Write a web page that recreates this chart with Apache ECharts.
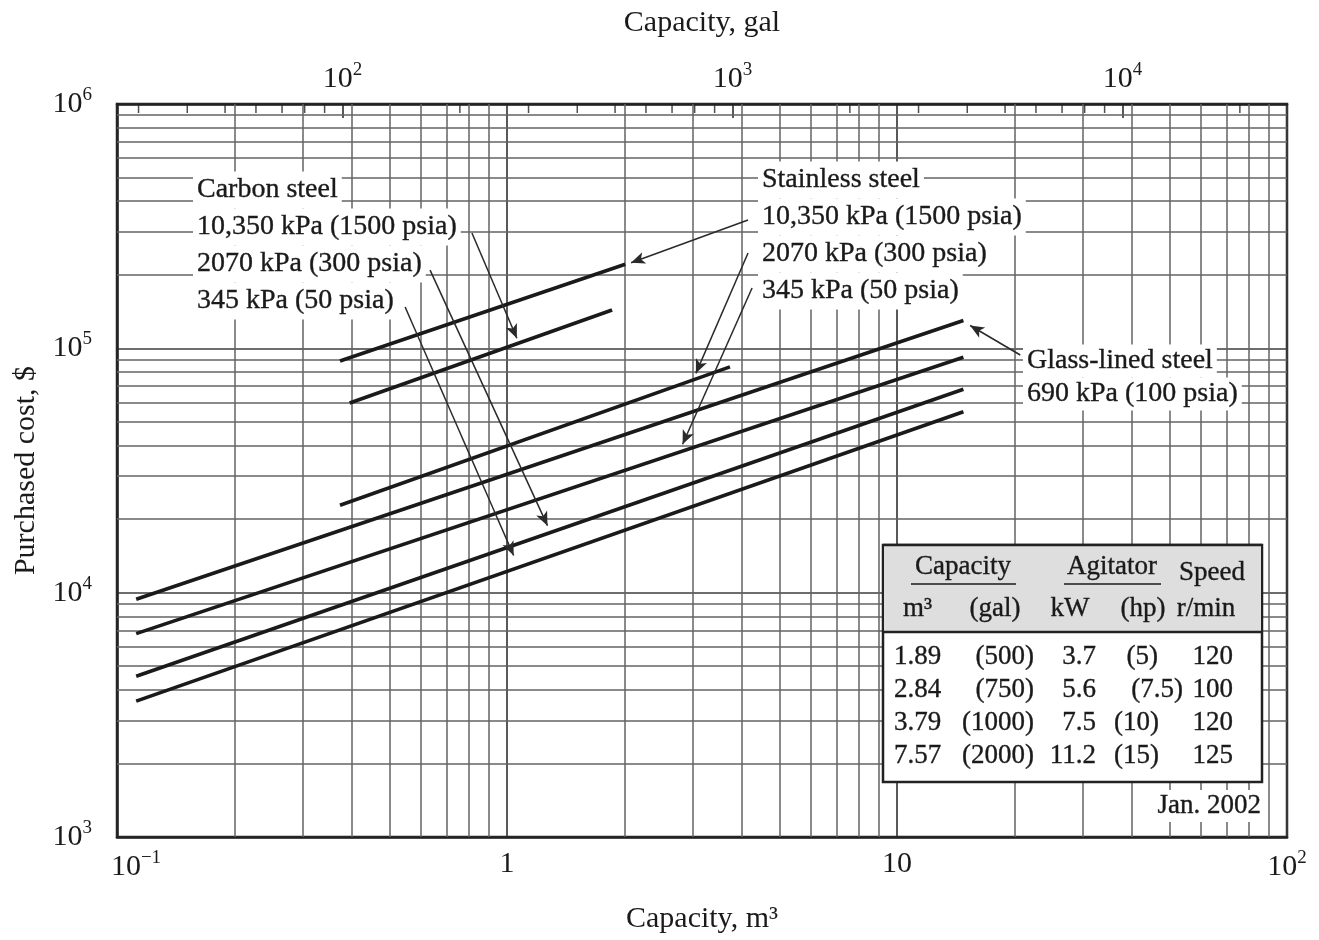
<!DOCTYPE html>
<html><head><meta charset="utf-8">
<script src="https://cdn.jsdelivr.net/npm/echarts@6/dist/echarts.min.js"></script>
<style>html,body{margin:0;padding:0;background:#fff}#c{width:1319px;height:940px}</style>
</head><body><div id="c"></div>
<script>
// ---- data: [capacity m3, purchased cost $] (Jan. 2002) ----
const glassLined690kPa = [[0.112, 9400], [14.8, 130000]];
const stainless345kPa  = [[0.112, 6800], [14.8, 92000]];
const carbon2070kPa    = [[0.112, 4550], [14.8, 68000]];
const carbon345kPa     = [[0.112, 3600], [14.8, 55000]];
const stainless2070kPa = [[0.373, 22800], [3.73, 84000]];
const stainless10350kPa= [[0.373, 88700], [2.01, 221000]];
const carbon10350kPa   = [[0.395, 59700], [1.86, 143500]];

// annotation arrows: [from, to] in data coords
const arrowCarbon10350 = [[0.813, 296500], [1.06, 110000]];
const arrowCarbon2070  = [[0.635, 209000], [1.27, 18800]];
const arrowCarbon345   = [[0.548, 147600], [1.04, 14200]];
const arrowStain10350  = [[4.15, 335000], [2.08, 224000]];
const arrowStain2070   = [[4.15, 245500], [3.05, 79000]];
const arrowStain345    = [[4.25, 176500], [2.82, 40500]];
const arrowGlass       = [[20.7, 93900], [15.4, 124000]];

// label texts
const carbonLabel = ['Carbon steel', '10,350 kPa (1500 psia)', '2070 kPa (300 psia)', '345 kPa (50 psia)'];
const stainlessLabel = ['Stainless steel', '10,350 kPa (1500 psia)', '2070 kPa (300 psia)', '345 kPa (50 psia)'];
const glassLabel = ['Glass-lined steel', '690 kPa (100 psia)'];

// inset table
const tableHeader1 = ['Capacity', 'Agitator', 'Speed'];
const tableHeader2 = ['m³', '(gal)', 'kW', '(hp)', 'r/min'];
const tableM3    = ['1.89', '2.84', '3.79', '7.57'];
const tableGal   = ['(500)', '(750)', '(1000)', '(2000)'];
const tableKW    = ['3.7', '5.6', '7.5', '11.2'];
const tableHp    = ['(5)', '(7.5)', '(10)', '(15)'];
const tableSpeed = ['120', '100', '120', '125'];
const dateNote = 'Jan. 2002';

// axes
const xMin = 0.1, xMax = 100, yMin = 1000, yMax = 1000000;
const GAL_PER_M3 = 264.172;
const xTickExponents = {'-1': '{bl|10}{s|−1}', '0': '{b|1}', '1': '{b|10}', '2': '{b|10}{s|2}'};
const galMinorTicks = [];
[10, 100, 1000, 10000].forEach(d => { for (let k = 2; k <= 9; k++) { const v = k * d; if (v > 26.4 && v < 26417) galMinorTicks.push(v); } });
const xMinorGrid = [], yMinorGrid = [];
[0.1, 1, 10].forEach(d => { for (let k = 2; k <= 9; k++) xMinorGrid.push(k * d); });
[1e3, 1e4, 1e5].forEach(d => { for (let k = 2; k <= 9; k++) yMinorGrid.push(k * d); });

const FONT = '"Liberation Serif", "Times New Roman", serif';
const INK = '#1a1a1a';
const richTick = {
  b: {fontFamily: FONT, fontSize: 30, color: INK},
  bl: {fontFamily: FONT, fontSize: 30, color: INK, padding: [0, 0, 0, 38]},
  s: {fontFamily: FONT, fontSize: 19, color: INK, padding: [0, 0, 18, 0]}
};
function powLabel(v, map) {
  const l = Math.log10(v), k = Math.round(l);
  if (Math.abs(l - k) > 1e-6) return '';
  if (map) return map[String(k)] || '';
  return '{b|10}{s|' + k + '}';
}

const chart = echarts.init(document.getElementById('c'));

function dataSeries(name, data) {
  return {name, type: 'line', data, showSymbol: false, symbol: 'none', z: 5,
    lineStyle: {color: INK, width: 3.6}, silent: true, animation: false};
}
function arrowItem(a) { return [{coord: a[0]}, {coord: a[1]}]; }

const option = {
  animation: false,
  backgroundColor: '#fff',
  grid: {left: 117, right: 32, top: 104, bottom: 103, show: true, borderColor: '#222', borderWidth: 2.5},
  xAxis: [
    {type: 'log', logBase: 10, min: xMin, max: xMax, position: 'bottom',
     name: 'Capacity, m³', nameLocation: 'middle', nameGap: 67,
     nameTextStyle: {fontFamily: FONT, fontSize: 30, color: INK},
     axisLine: {show: true, lineStyle: {color: '#222', width: 2.5}},
     axisTick: {show: false},
     axisLabel: {margin: 12, formatter: v => powLabel(v, xTickExponents), rich: richTick},
     splitLine: {show: true, lineStyle: {color: '#3c3c3c', width: 1.7}}},
    {type: 'log', logBase: 10, min: xMin * GAL_PER_M3, max: xMax * GAL_PER_M3, position: 'top',
     name: 'Capacity, gal', nameLocation: 'middle', nameGap: 66,
     nameTextStyle: {fontFamily: FONT, fontSize: 30, color: INK},
     axisLine: {show: true, lineStyle: {color: '#222', width: 2.5}},
     axisTick: {show: true, inside: true, length: 14, lineStyle: {color: '#222', width: 1.5}},
     axisLabel: {margin: 6, showMinLabel: false, showMaxLabel: false, formatter: v => powLabel(v), rich: richTick},
     splitLine: {show: false}}
  ],
  yAxis: [
    {type: 'log', logBase: 10, min: yMin, max: yMax,
     name: 'Purchased cost, $', nameLocation: 'middle', nameGap: 72,
     nameTextStyle: {fontFamily: FONT, fontSize: 30, color: INK},
     axisLine: {show: true, lineStyle: {color: '#222', width: 2.5}},
     axisTick: {show: false},
     axisLabel: {margin: 25, formatter: v => powLabel(v), rich: richTick},
     splitLine: {show: true, lineStyle: {color: '#3c3c3c', width: 1.7}}}
  ],
  series: [
    {type: 'line', data: [], z: 1, silent: true,
     markLine: {z: 1, silent: true, symbol: 'none', animation: false, label: {show: false},
       lineStyle: {color: '#636363', width: 1.5, type: 'solid'},
       data: xMinorGrid.map(v => ({xAxis: v})).concat(yMinorGrid.map(v => ({yAxis: v})))}},
    {type: 'scatter', xAxisIndex: 1, yAxisIndex: 0, z: 6, silent: true, clip: false,
     symbol: 'rect', symbolSize: [1.5, 9], symbolOffset: [0, 4.5], itemStyle: {color: '#222'},
     data: galMinorTicks.map(v => [v, yMax])},
    dataSeries('Glass-lined steel 690 kPa', glassLined690kPa),
    dataSeries('Stainless steel 345 kPa', stainless345kPa),
    dataSeries('Carbon steel 2070 kPa', carbon2070kPa),
    dataSeries('Carbon steel 345 kPa', carbon345kPa),
    dataSeries('Stainless steel 2070 kPa', stainless2070kPa),
    dataSeries('Stainless steel 10,350 kPa', stainless10350kPa),
    dataSeries('Carbon steel 10,350 kPa', carbon10350kPa),
    {type: 'line', data: [], z: 7, silent: true,
     markLine: {z: 7, silent: true, animation: false, symbol: ['none', 'arrow'], symbolSize: [9, 14],
       label: {show: false}, lineStyle: {color: '#2a2a2a', width: 1.5, type: 'solid'},
       data: [arrowCarbon10350, arrowCarbon2070, arrowCarbon345, arrowStain10350, arrowStain2070, arrowStain345, arrowGlass].map(arrowItem)}}
  ],
  graphic: []
};

// ---- annotation labels and inset table (graphic) ----
const G = [];
const measureCtx = document.createElement('canvas').getContext('2d');
function textWidth(t, font) { measureCtx.font = font; return measureCtx.measureText(t).width; }

function txt(x, y, text, size, align, z) {
  G.push({type: 'text', x, y, z: z || 50, silent: true,
    style: {text, font: size + 'px ' + FONT, fill: INK, stroke: INK, lineWidth: 0.35,
      textAlign: align || 'left', textVerticalAlign: 'middle'}});
}
function whiteBox(x, y, w, h, z) {
  G.push({type: 'rect', z: z, silent: true, shape: {x, y, width: w, height: h}, style: {fill: '#fff'}});
}
function block(x, yCenter0, lines, lh, size) {
  const font = size + 'px ' + FONT;
  lines.forEach((t, i) => {
    const yc = yCenter0 + i * lh;
    const w = textWidth(t, font);
    whiteBox(x - 4, yc - lh / 2, w + 8, lh, 3);
    txt(x, yc, t, size, 'left', 4);
  });
}
block(197, 190, carbonLabel, 37, 28);
block(762, 180, stainlessLabel, 37, 28);
block(1027, 361, glassLabel, 33, 28);

// table box
const TX = 883, TY = 545, TW = 379, TH = 237, HH = 87;
G.push({type: 'rect', z: 40, silent: true, shape: {x: TX, y: TY, width: TW, height: TH}, style: {fill: '#fff', stroke: '#222', lineWidth: 2.5}});
G.push({type: 'rect', z: 41, silent: true, shape: {x: TX + 1, y: TY + 1, width: TW - 2, height: HH - 1}, style: {fill: '#dedede'}});
G.push({type: 'line', z: 42, silent: true, shape: {x1: TX, y1: TY + HH, x2: TX + TW, y2: TY + HH}, style: {stroke: '#222', lineWidth: 2.5}});
G.push({type: 'line', z: 42, silent: true, shape: {x1: TX, y1: TY, x2: TX + TW, y2: TY}, style: {stroke: '#222', lineWidth: 2.5}});
const TF = 27;
txt(963, 567, tableHeader1[0], TF, 'center');
txt(1112, 567, tableHeader1[1], TF, 'center');
txt(1212, 573, tableHeader1[2], TF, 'center');
G.push({type: 'line', z: 52, silent: true, shape: {x1: 911, y1: 584, x2: 1016, y2: 584}, style: {stroke: INK, lineWidth: 1.6}});
G.push({type: 'line', z: 52, silent: true, shape: {x1: 1064, y1: 584, x2: 1161, y2: 584}, style: {stroke: INK, lineWidth: 1.6}});
const h2x = [903, 995, 1070, 1143, 1206];
const h2a = ['left', 'center', 'center', 'center', 'center'];
tableHeader2.forEach((t, i) => txt(h2x[i], 609, t, TF, h2a[i]));
const rowY = [657, 690, 723, 756];
const hpRight = [1158, 1183, 1159, 1159];
tableM3.forEach((t, i) => {
  txt(894, rowY[i], t, TF, 'left');
  txt(1034, rowY[i], tableGal[i], TF, 'right');
  txt(1096, rowY[i], tableKW[i], TF, 'right');
  txt(hpRight[i], rowY[i], tableHp[i], TF, 'right');
  txt(1233, rowY[i], tableSpeed[i], TF, 'right');
});
{
  const f = '27px ' + FONT;
  const w = textWidth(dateNote, f);
  whiteBox(1261 - w - 4, 790, w + 8, 32, 45);
  txt(1261, 806, dateNote, 27, 'right', 50);
}

option.graphic = G;
chart.setOption(option);
</script></body></html>
